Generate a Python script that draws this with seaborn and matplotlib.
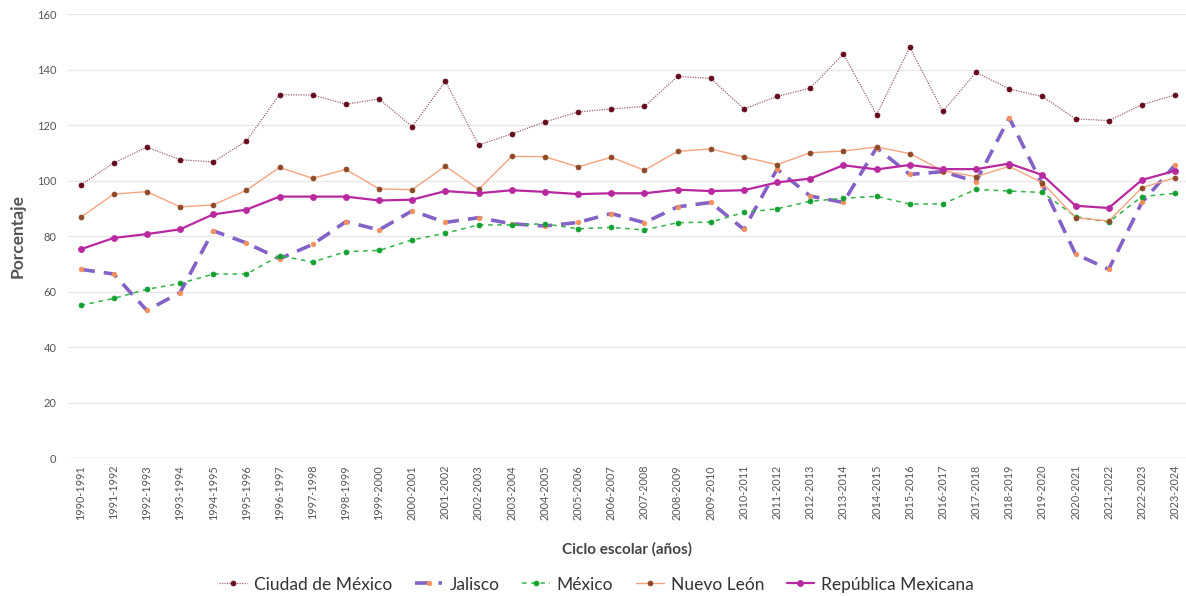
import pandas as pd
import matplotlib.pyplot as plt
import seaborn as sns

ciclos = [f"{a}-{a + 1}" for a in range(1990, 2024)]

ciudad_de_mexico = [98.4, 106.3, 112.0, 107.5, 106.7, 114.3, 130.9, 130.8, 127.5, 129.4,
                    119.4, 135.8, 112.8, 116.8, 121.1, 124.7, 125.8, 126.7, 137.5, 136.8,
                    125.8, 130.3, 133.3, 145.6, 123.7, 148.0, 124.9, 139.0, 133.0, 130.3,
                    122.2, 121.6, 127.3, 130.8]
jalisco = [68.0, 66.3, 53.2, 59.6, 81.9, 77.5, 71.8, 77.0, 85.2, 82.2,
           89.1, 84.9, 86.6, 84.4, 83.6, 84.9, 88.1, 84.8, 90.5, 92.1,
           82.4, 104.1, 94.4, 92.1, 111.8, 102.2, 103.2, 99.6, 122.6, 98.5,
           73.5, 68.0, 92.1, 105.6]
mexico = [55.0, 57.5, 60.8, 62.9, 66.3, 66.3, 72.9, 70.6, 74.4, 74.8,
          78.6, 81.0, 84.0, 84.0, 84.4, 82.6, 83.1, 82.2, 84.8, 85.0,
          88.5, 89.8, 92.5, 93.6, 94.3, 91.5, 91.6, 96.8, 96.2, 95.7,
          87.0, 85.0, 94.2, 95.4]
nuevo_leon = [86.7, 95.1, 96.0, 90.5, 91.2, 96.5, 104.7, 100.8, 104.0, 97.0,
              96.7, 105.2, 96.8, 108.7, 108.6, 104.9, 108.4, 103.7, 110.5, 111.4,
              108.5, 105.7, 110.0, 110.6, 112.1, 109.7, 103.5, 101.4, 105.1, 99.2,
              86.6, 85.4, 97.4, 101.0]
republica = [75.2, 79.3, 80.7, 82.4, 87.8, 89.5, 94.2, 94.2, 94.2, 92.8,
             93.1, 96.2, 95.4, 96.5, 95.9, 95.1, 95.4, 95.4, 96.7, 96.2,
             96.5, 99.3, 100.7, 105.5, 104.0, 105.6, 104.1, 104.1, 106.1, 102.0,
             90.9, 90.1, 100.2, 103.5]

series = {
    "Ciudad de México": ciudad_de_mexico,
    "Jalisco": jalisco,
    "México": mexico,
    "Nuevo León": nuevo_leon,
    "República Mexicana": republica,
}

# line colour, marker colour, linestyle, linewidth, marker size
estilos = {
    "Ciudad de México": ("#9c6470", "#650a1c", (0, (1, 1)), 0.9, 3.6),
    "Jalisco": ("#8462c6", "#f4915c", (0, (4, 2.5)), 2.6, 3.4),
    "México": ("#31b446", "#12a031", (0, (3, 3)), 1.1, 3.6),
    "Nuevo León": ("#f5a47f", "#8e4a26", "-", 1.0, 3.6),
    "República Mexicana": ("#b8289f", "#b8289f", "-", 1.6, 4.4),
}

df = pd.DataFrame({"ciclo": ciclos, **series})
df["pos"] = range(len(ciclos))

sns.set_style("white")
plt.rcParams["font.family"] = ["Lato", "DejaVu Sans"]

fig = plt.figure(figsize=(11.86, 5.96), dpi=100)
ax = fig.add_axes([0.057, 0.2315, 0.943, 0.745])

for nombre in series:
    color, mcolor, ls, lw, ms = estilos[nombre]
    sns.lineplot(data=df, x="pos", y=nombre, ax=ax, color=color, linestyle=ls,
                 linewidth=lw, marker="o", markersize=ms, markerfacecolor=mcolor,
                 markeredgecolor=mcolor, markeredgewidth=0.5, label=nombre)

ax.set_ylim(0, 160)
ax.set_xlim(-0.39, 33.33)
ax.set_yticks(range(0, 161, 20))
ax.set_xticks(df["pos"])
ax.set_xticklabels(ciclos, rotation=90, fontsize=7.8, color="#555555")
ax.tick_params(axis="y", labelsize=8, colors="#555555", length=0, pad=8)
ax.tick_params(axis="x", length=0, pad=5)
ax.yaxis.grid(True, color="#e8e8e8", linewidth=1)
ax.xaxis.grid(False)
sns.despine(ax=ax, left=True, bottom=True)
ax.axhline(0, color="#e0e0e0", linewidth=1, zorder=0)

ax.set_ylabel("Porcentaje", fontsize=12.5, fontweight="bold", color="#555555", labelpad=8)
ax.set_xlabel("Ciclo escolar (años)", fontsize=11, fontweight="bold", color="#444444", labelpad=16)

ax.legend(loc="center", bbox_to_anchor=(0.473, -0.285), ncol=5, frameon=False,
          fontsize=12.5, handlelength=1.6, columnspacing=1.3, handletextpad=0.4,
          labelcolor="#333333")

fig.savefig("out.png", dpi=100)
